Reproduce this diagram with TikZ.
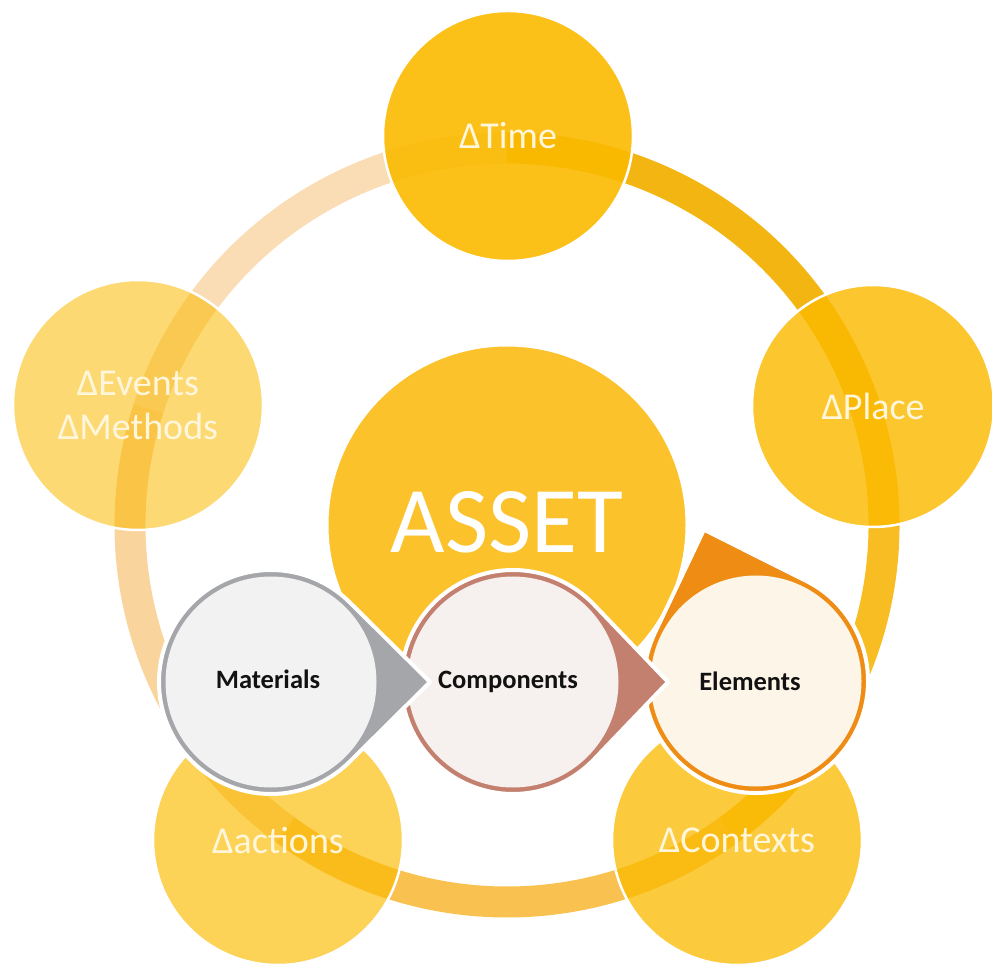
\documentclass[tikz,border=0pt]{standalone}
\usepackage{fontspec}
\setmainfont{Carlito}
\usetikzlibrary{calc}
\definecolor{basegold}{HTML}{FBBA00}
\definecolor{labelcream}{HTML}{FFF6DC}
\definecolor{ringTL}{HTML}{FADCB5}
\definecolor{ringL}{HTML}{F9D49C}
\definecolor{ringB}{HTML}{F9C250}
\definecolor{ringR}{HTML}{F8BD22}
\definecolor{ringTR}{HTML}{F3B512}
\definecolor{assetgold}{HTML}{FBC22C}
\definecolor{grayout}{HTML}{A5A6AA}
\definecolor{grayfill}{HTML}{F2F2F2}
\definecolor{brownout}{HTML}{C4806F}
\definecolor{brownfill}{HTML}{F6F0EE}
\definecolor{orangeout}{HTML}{EE8C14}
\definecolor{orangefill}{HTML}{FDF5E8}
\begin{document}
\begin{tikzpicture}[x=1pt,y=1pt,
  pent/.style={circle, inner sep=0pt, outer sep=0pt, minimum size=250pt,
    fill=basegold, draw=white, line width=2.5pt, text=labelcream, text opacity=1,
    font=\fontsize{38}{44}\selectfont, align=center},
  ringseg/.style={line width=31pt, line cap=butt},
  procin/.style={circle, inner sep=0pt, outer sep=0pt, minimum size=211pt},
  proclabel/.style={font=\bfseries\fontsize{26.5}{26.5}\selectfont, text=black!93, anchor=base, inner sep=0pt},
  tdrop/.style={line width=4pt, draw=white, line join=round}
]
\useasboundingbox (0,0) rectangle (992,964);
\coordinate (c) at (507,439);
% ring
\draw[ringseg, draw=ringTL] ($(c)+(90:377)$) arc[start angle=90, end angle=162, radius=377];
\draw[ringseg, draw=ringL] ($(c)+(162:377)$) arc[start angle=162, end angle=234, radius=377];
\draw[ringseg, draw=ringB] ($(c)+(234:377)$) arc[start angle=234, end angle=306, radius=377];
\draw[ringseg, draw=ringR] ($(c)+(306:377)$) arc[start angle=306, end angle=378, radius=377];
\draw[ringseg, draw=ringTR] ($(c)+(18:377)$) arc[start angle=18, end angle=90, radius=377];
% pentagon circles
\node[pent, fill opacity=0.9] (time) at (508,828) {ΔTime};
\node[pent, fill opacity=0.82, minimum size=242pt] (place) at (873,558) {ΔPlace};
\node[pent, fill opacity=0.76] (contexts) at (737,124) {ΔContexts};
\node[pent, fill opacity=0.66] (actions) at (278,124) {Δactions};
\node[pent, fill opacity=0.55] (events) at (138,559) {ΔEvents\\ΔMethods};
% central asset
\node[circle, inner sep=0pt, minimum size=360pt, fill=assetgold, draw=white, line width=3pt] (asset) at (c) {};
\node[text=white, font=\fontsize{94}{94}\selectfont, inner sep=0pt] (assettxt) at (507,442) {ASSET};
% process teardrops
\coordinate (ele) at (756,283);
\coordinate (com) at (513,282);
\coordinate (mat) at (271,282);
\pgfmathsetmacro\aE{acos(112/160)}
\pgfmathsetmacro\aC{acos(112/155)}
\pgfmathsetmacro\aM{acos(112/159)}
% Elements
\filldraw[tdrop, fill=orangeout] ($(ele)+(109:160)$) -- ($(ele)+({109+\aE}:112)$)
  arc[start angle={109+\aE}, delta angle={360-2*\aE}, radius=112] -- cycle;
\node[procin, fill=orangefill] (elements) at (ele) {};
\node[proclabel] (elementstxt) at (750,274) {Elements};
% Components
\filldraw[tdrop, fill=brownout] ($(com)+(0:155)$) -- ($(com)+(\aC:112)$)
  arc[start angle=\aC, delta angle={360-2*\aC}, radius=112] -- cycle;
\node[procin, fill=brownfill] (components) at (com) {};
\node[proclabel] (componentstxt) at (508,276) {Components};
% Materials
\filldraw[tdrop, fill=grayout] ($(mat)+(0:159)$) -- ($(mat)+(\aM:112)$)
  arc[start angle=\aM, delta angle={360-2*\aM}, radius=112] -- cycle;
\node[procin, fill=grayfill] (materials) at (mat) {};
\node[proclabel] (materialstxt) at (268,276) {Materials};
\end{tikzpicture}
\end{document}
